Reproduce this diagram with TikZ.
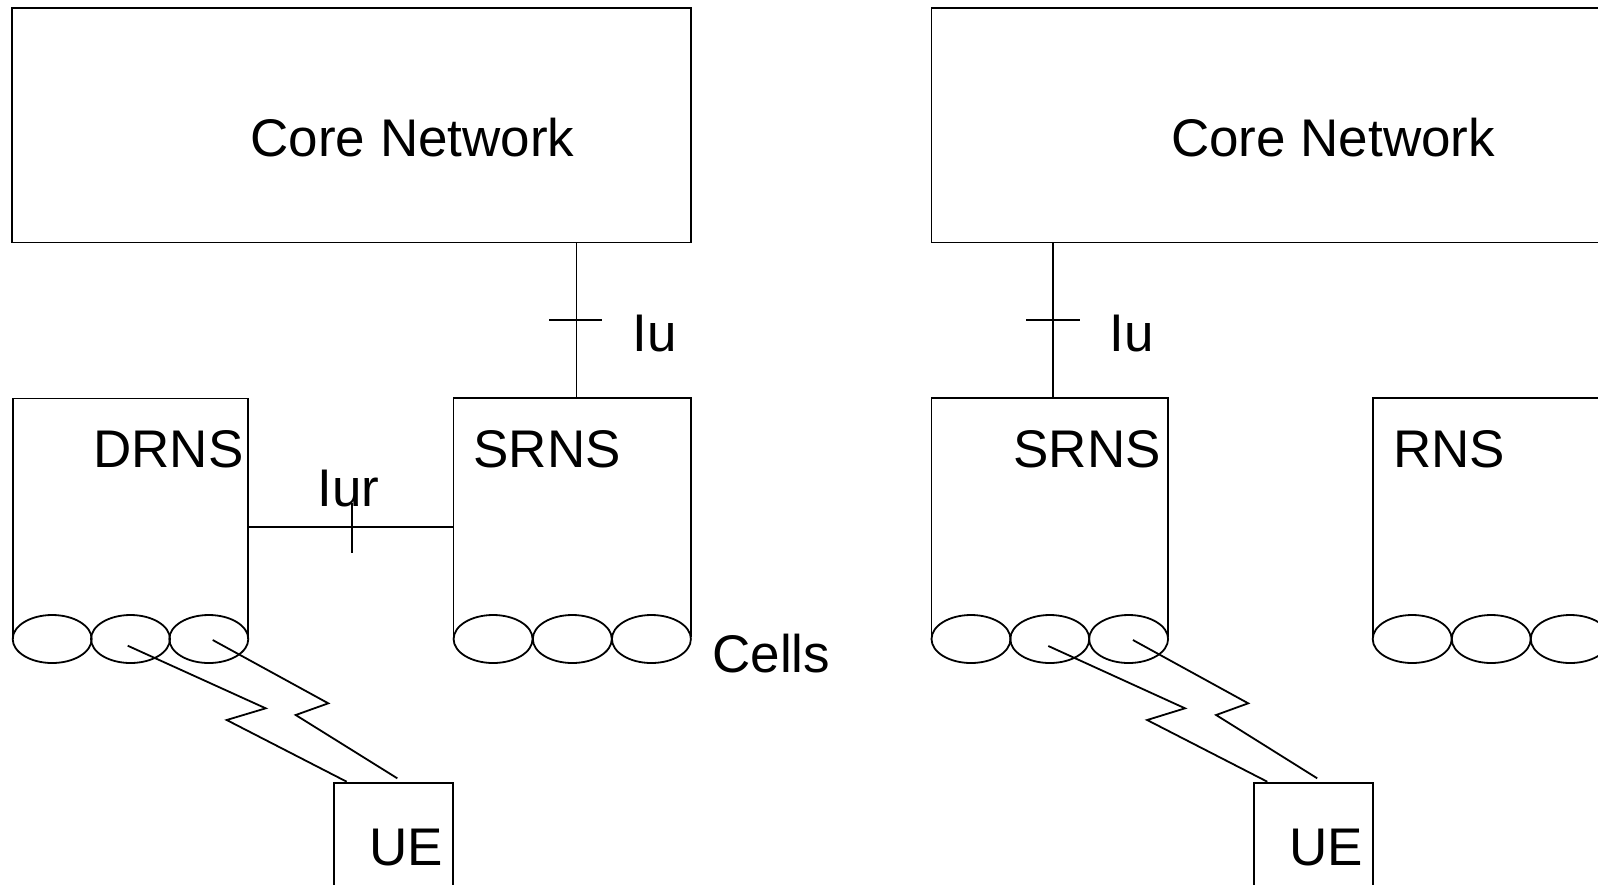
\documentclass[tikz,border=0pt]{standalone}
\usepackage{fontspec}
\setmainfont{Liberation Sans}
\usetikzlibrary{shapes.geometric}
\tikzset{
  ln/.style={line width=0.9pt, line join=miter},
  lbl/.style={inner sep=0pt, anchor=base west, font=\fontsize{26.5}{30}\selectfont},
  cell/.style={draw, ellipse, line width=0.9pt, minimum width=39.5pt, minimum height=24pt, inner sep=0pt},
  corebox/.style={draw, rectangle, line width=0.9pt, inner sep=0pt}
}
\begin{document}
\begin{tikzpicture}[x=0.5pt,y=-0.5pt]
\useasboundingbox (0,0) rectangle (1598,884);
\clip (0,0) rectangle (1598,884);
% core network boxes
\node[corebox, minimum width=339.5pt, minimum height=117.25pt] (coreL) at (351.75,125.25) {};
\node[lbl, anchor=base] (coreLtxt) at (412.5,156) {Core Network};
\node[corebox, minimum width=354.25pt, minimum height=117.25pt] (coreR) at (1285.75,125.25) {};
\node[lbl, anchor=base] (coreRtxt) at (1333,156) {Core Network};
% RNS boxes (open bottom)
\coordinate (drnsBL) at (12.7,639); \coordinate (drnsTL) at (12.7,398.5);
\coordinate (drnsTR) at (248.3,398.5); \coordinate (drnsBR) at (248.3,639);
\draw[ln] (drnsBL) -- (drnsTL) -- (drnsTR) -- (drnsBR);
\coordinate (srnsLBL) at (453.5,637); \coordinate (srnsLTL) at (453.5,398.3);
\coordinate (srnsLTR) at (691,398.3); \coordinate (srnsLBR) at (691,637);
\draw[ln] (srnsLBL) -- (srnsLTL) -- (srnsLTR) -- (srnsLBR);
\coordinate (srnsRBL) at (931.5,637); \coordinate (srnsRTL) at (931.5,398.3);
\coordinate (srnsRTR) at (1168,398.3); \coordinate (srnsRBR) at (1168,637);
\draw[ln] (srnsRBL) -- (srnsRTL) -- (srnsRTR) -- (srnsRBR);
\coordinate (rnsBL) at (1372.7,637); \coordinate (rnsTL) at (1372.7,398.3);
\coordinate (rnsTR) at (1640,398.3);
\draw[ln] (rnsBL) -- (rnsTL) -- (rnsTR);
% cells
\node[cell] (d1) at (52.2,639) {};
\node[cell] (d2) at (130.5,639) {};
\node[cell] (d3) at (208.8,639) {};
\node[cell] (s1) at (493.1,639) {};
\node[cell] (s2) at (572.3,639) {};
\node[cell] (s3) at (651.4,639) {};
\node[cell] (t1) at (971,639) {};
\node[cell] (t2) at (1049.8,639) {};
\node[cell] (t3) at (1128.6,639) {};
\node[cell] (r1) at (1412.2,639) {};
\node[cell] (r2) at (1491.2,639) {};
\node[cell] (r3) at (1570.2,639) {};
% labels
\node[lbl] (drnsTxt) at (93,467.3) {DRNS};
\node[lbl] (srnsLTxt) at (473,467.3) {SRNS};
\node[lbl] (srnsRTxt) at (1013,467.3) {SRNS};
\node[lbl] (rnsTxt) at (1393,467.3) {RNS};
\node[lbl] (cellsTxt) at (712,672.6) {Cells};
% Iu interfaces
\coordinate (iuLtop) at (576.5,242.5); \coordinate (iuLbot) at (576.5,398.3);
\draw[ln] (iuLtop) -- (iuLbot);
\coordinate (iuLt1) at (549,320); \coordinate (iuLt2) at (602,320);
\draw[ln] (iuLt1) -- (iuLt2);
\node[lbl] (iuLTxt) at (632,351.7) {Iu};
\coordinate (iuRtop) at (1052.7,242.5); \coordinate (iuRbot) at (1052.7,398.3);
\draw[ln] (iuRtop) -- (iuRbot);
\coordinate (iuRt1) at (1026,320); \coordinate (iuRt2) at (1080,320);
\draw[ln] (iuRt1) -- (iuRt2);
\node[lbl] (iuRTxt) at (1109,351.7) {Iu};
% Iur
\coordinate (iurA) at (248.3,526.7); \coordinate (iurB) at (453.5,526.7);
\draw[ln] (iurA) -- (iurB);
\coordinate (iurT1) at (351.7,503); \coordinate (iurT2) at (351.7,552.7);
\draw[ln] (iurT1) -- (iurT2);
\node[lbl] (iurTxt) at (317,506) {Iur};
% UE boxes
\coordinate (ueLBL) at (334,900); \coordinate (ueLTL) at (334,782.7);
\coordinate (ueLTR) at (452.7,782.7); \coordinate (ueLBR) at (452.7,900);
\draw[ln] (ueLBL) -- (ueLTL) -- (ueLTR) -- (ueLBR);
\node[lbl] (ueLTxt) at (369,865) {UE};
\coordinate (ueRBL) at (1254,900); \coordinate (ueRTL) at (1254,782.7);
\coordinate (ueRTR) at (1372.7,782.7); \coordinate (ueRBR) at (1372.7,900);
\draw[ln] (ueRBL) -- (ueRTL) -- (ueRTR) -- (ueRBR);
\node[lbl] (ueRTxt) at (1289,865) {UE};
% radio links (lightning)
\coordinate (lA0) at (127.7,645.7); \coordinate (lA1) at (265.7,708.3);
\coordinate (lA2) at (226.7,720); \coordinate (lA3) at (346.7,781.7);
\draw[ln] (lA0) -- (lA1) -- (lA2) -- (lA3);
\coordinate (lB0) at (212.7,640); \coordinate (lB1) at (328.3,703.3);
\coordinate (lB2) at (295.7,715); \coordinate (lB3) at (397.3,778.3);
\draw[ln] (lB0) -- (lB1) -- (lB2) -- (lB3);
\coordinate (rA0) at (1048.3,646); \coordinate (rA1) at (1185,708.3);
\coordinate (rA2) at (1147.1,720); \coordinate (rA3) at (1267.3,781.7);
\draw[ln] (rA0) -- (rA1) -- (rA2) -- (rA3);
\coordinate (rB0) at (1132.9,640); \coordinate (rB1) at (1248.2,703.3);
\coordinate (rB2) at (1216.1,715); \coordinate (rB3) at (1317.2,778.3);
\draw[ln] (rB0) -- (rB1) -- (rB2) -- (rB3);
\end{tikzpicture}
\end{document}
